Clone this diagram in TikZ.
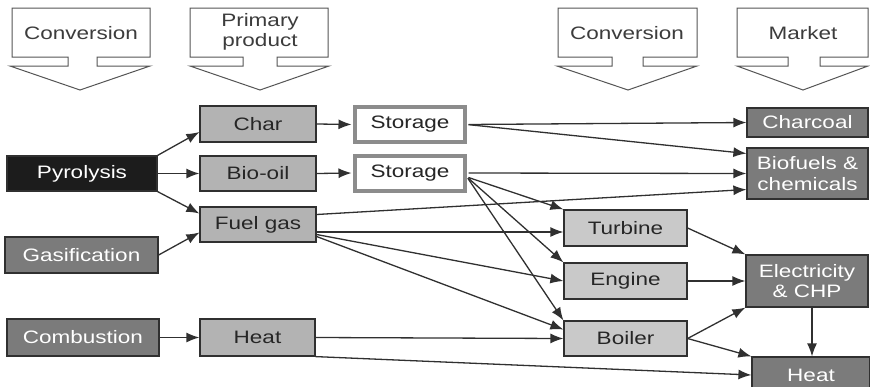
\documentclass[tikz,border=0pt]{standalone}
\usepackage{fontspec}
\setmainfont[FakeStretch=1.25]{Liberation Sans}
\usetikzlibrary{arrows.meta}
\definecolor{edgeC}{HTML}{303030}
\definecolor{textC}{HTML}{262626}
\definecolor{primC}{HTML}{B3B3B3}
\definecolor{convC}{HTML}{C9C9C9}
\definecolor{darkC}{HTML}{7B7B7B}
\definecolor{blackC}{HTML}{1C1C1C}
\definecolor{storeC}{HTML}{8C8C8C}
\definecolor{headC}{HTML}{555555}
\definecolor{headT}{HTML}{3C3C3C}
\newcommand\lbl{\fontsize{18}{20.5}\selectfont}
\tikzset{
  box/.style={draw=edgeC, line width=1.2pt, inner sep=0pt, font=\lbl, align=center, text=textC},
  primbox/.style={box, fill=primC},
  convbox/.style={box, fill=convC},
  darkbox/.style={box, fill=darkC, text=white},
  blackbox/.style={box, fill=blackC, text=white},
  storebox/.style={box, fill=white, draw=storeC, line width=4pt},
  headtext/.style={inner sep=0pt, font=\lbl, align=center, text=headT},
  headshape/.style={draw=headC, line width=1pt, fill=white},
  flow/.style={draw=edgeC, line width=1.3pt, -{Latex[length=13pt,width=10pt]}},
}
\begin{document}
\begin{tikzpicture}[x=1pt, y=-1pt]
\useasboundingbox (0,0) rectangle (870,386);
\clip (0,0) rectangle (870,386);
\fill[white] (0,0) rectangle (870,386);

% column headers: box with a down-pointing arrow
\draw[headshape] (12,8) -- (150,8) -- (150,57) -- (97,57) -- (97,66) -- (150,66)
  -- (80,90) -- (10,66) -- (68,66) -- (68,57) -- (12,57) -- cycle;
\draw[headshape] (190,8) -- (328,8) -- (328,57) -- (277,57) -- (277,66) -- (329,66)
  -- (260,90) -- (190,66) -- (243,66) -- (243,57) -- (190,57) -- cycle;
\draw[headshape] (558,8) -- (697,8) -- (697,57) -- (643,57) -- (643,66) -- (697,66)
  -- (628,90) -- (557,66) -- (612,66) -- (612,57) -- (558,57) -- cycle;
\draw[headshape] (737,8) -- (868,8) -- (868,57) -- (820,57) -- (820,66) -- (868,66)
  -- (803,90) -- (737,66) -- (788,66) -- (788,57) -- (737,57) -- cycle;
\node[headtext] (hA) at (81,33) {Conversion};
\node[headtext] (hB) at (260,32) {Primary\\product};
\node[headtext] (hC) at (627,33) {Conversion};
\node[headtext] (hD) at (803,33) {Market};

% conversion routes
\node[blackbox, minimum width=150pt, minimum height=35pt] (pyro) at (82,173.5) {Pyrolysis};
\node[darkbox, minimum width=153pt, minimum height=36pt] (gasi) at (81.5,255) {Gasification};
\node[darkbox, minimum width=152pt, minimum height=37pt] (comb) at (83,337.5) {Combustion};

% primary products
\node[primbox, minimum width=116pt, minimum height=36pt] (char) at (258,124) {Char};
\node[primbox, minimum width=116pt, minimum height=35pt] (oil) at (258,173.5) {Bio-oil};
\node[primbox, minimum width=116pt, minimum height=35pt] (fuel) at (258,224.5) {Fuel gas};
\node[primbox, minimum width=115pt, minimum height=37pt] (heatp) at (257.5,337.5) {Heat};

% storage
\node[storebox, minimum width=110pt, minimum height=35pt] (sto1) at (410,124.5) {Storage};
\node[storebox, minimum width=110pt, minimum height=35pt] (sto2) at (410,173) {Storage};

% secondary conversion
\node[convbox, minimum width=123pt, minimum height=36pt] (turb) at (625.5,228) {Turbine};
\node[convbox, minimum width=123pt, minimum height=36pt] (eng) at (625.5,281) {Engine};
\node[convbox, minimum width=123pt, minimum height=35pt] (boil) at (625.5,338.5) {Boiler};

% markets
\node[darkbox, minimum width=121pt, minimum height=29pt] (coal) at (807.5,122.5) {Charcoal};
\node[darkbox, minimum width=121pt, minimum height=51pt] (biof) at (807.5,173.5) {Biofuels \&\\chemicals};
\node[darkbox, minimum width=122pt, minimum height=52pt] (elec) at (807,281) {Electricity\\\& CHP};
\node[darkbox, minimum width=118pt, minimum height=36pt] (heatm) at (811,375) {Heat};

% flows
\draw[flow] (pyro.north east) -- ([yshift=-8pt]char.west);
\draw[flow] (pyro.east) -- (oil.west);
\draw[flow] (pyro.south east) -- ([yshift=11pt]fuel.west);
\draw[flow] (gasi.east) -- ([yshift=-8pt]fuel.west);
\draw[flow] (comb.east) -- (heatp.west);

\draw[flow, shorten >=1.5pt] (char.east) -- (sto1.west);
\draw[flow, shorten >=1.5pt] (oil.east) -- (sto2.west);

\draw[flow, shorten <=1.5pt] (sto1.east) -- (coal.west);
\draw[flow, shorten <=1.5pt] (sto1.east) -- ([yshift=20pt]biof.west);
\draw[flow, shorten <=1.5pt] (sto2.east) -- (biof.west);
\draw[flow] ([yshift=10pt]fuel.east) -- ([yshift=-16pt]biof.west);

\draw[flow, shorten <=1.5pt] ([yshift=-4pt]sto2.east) -- (turb.north west);
\draw[flow, shorten <=1.5pt] ([yshift=-4pt]sto2.east) -- (eng.north west);
\draw[flow, shorten <=1.5pt] ([yshift=-4pt]sto2.east) -- (boil.north west);

\draw[flow] ([yshift=-7.5pt]fuel.east) -- ([yshift=-4pt]turb.west);
\draw[flow] ([yshift=-10pt]fuel.east) -- (eng.west);
\draw[flow] ([yshift=-12pt]fuel.east) -- ([yshift=9pt]boil.west);

\draw[flow] (heatp.east) -- (boil.west);
\draw[flow] (heatp.south east) -- (heatm.west);

\draw[flow] (turb.east) -- (elec.north west);
\draw[flow] (eng.east) -- (elec.west);
\draw[flow] (boil.east) -- (elec.south west);
\draw[flow] (boil.east) -- (heatm.north west);
\draw[flow] ([xshift=5pt]elec.south) -- ([xshift=5pt]elec.south |- heatm.north);
\end{tikzpicture}
\end{document}
